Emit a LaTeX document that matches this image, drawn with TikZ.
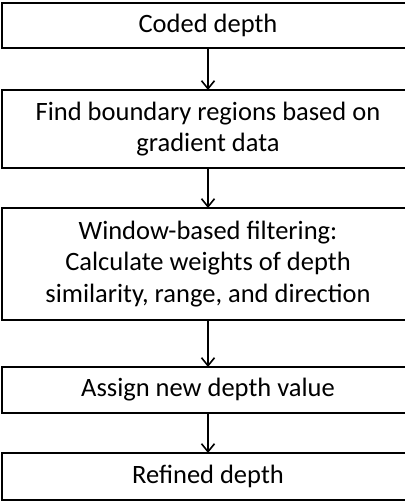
\documentclass[tikz,border=0pt]{standalone}
\usepackage{fontspec}
\setmainfont{Carlito}
\usetikzlibrary{positioning, arrows.meta}
\tikzstyle{process} = [rectangle, minimum width=412pt, text centered, align=center, draw=black, line width=2pt, outer sep=0pt, inner sep=0pt, font=\fontsize{26.5pt}{31.5pt}\selectfont]
\tikzstyle{arrow} = [line width=1.6pt,->,>={Straight Barb[length=8pt,width=13pt]}]

\begin{document}
\begin{tikzpicture}[x=1pt, y=1pt]
\useasboundingbox (0,0) rectangle (404,-502);
%nodes
\node (coded) [process, minimum height=45pt] at (208,-25.5) {Coded depth};
\node (bound) [process, minimum height=78pt, below=42pt of coded] {Find boundary regions based on\\gradient data};
\node (filt) [process, minimum height=112pt, below=40pt of bound] {Window-based filtering:\\Calculate weights of depth\\similarity, range, and direction};
\node (assign) [process, minimum height=46pt, below=47pt of filt] {Assign new depth value};
\node (refined) [process, minimum height=47pt, below=40pt of assign] {Refined depth};

%arrows
\draw [arrow] (coded) -- (bound);
\draw [arrow] (bound) -- (filt);
\draw [arrow] (filt) -- (assign);
\draw [arrow] (assign) -- (refined);
\end{tikzpicture}
\end{document}
